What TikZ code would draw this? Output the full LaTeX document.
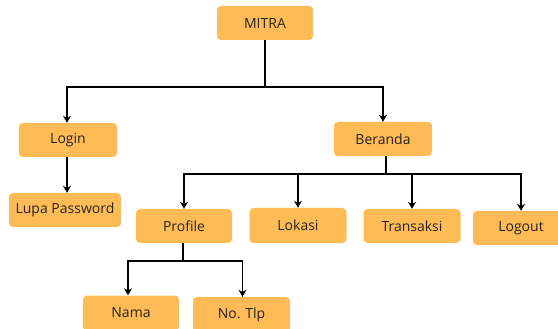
\documentclass[tikz,border=0pt]{standalone}
\usepackage{fontspec}
\setmainfont{Open Sans}
\usetikzlibrary{arrows.meta}
\definecolor{boxfill}{RGB}{255,187,85}
\definecolor{boxtext}{RGB}{40,36,30}
\begin{document}
\begin{tikzpicture}[x=1pt,y=-1pt,
  menubox/.style={fill=boxfill,rounded corners=4pt,text=boxtext,
    font=\fontsize{14}{16}\selectfont,inner sep=0pt,anchor=center},
  trunk/.style={draw=black,line width=1.8pt},
  link/.style={trunk,-{Stealth[length=7pt,width=8pt]}}]
\useasboundingbox (0,0) rectangle (558,329);
\clip (0,0) rectangle (558,329);
% boxes
\node[menubox,minimum width=96pt,minimum height=34pt] (mitra) at (265,23) {MITRA};
\node[menubox,minimum width=98pt,minimum height=34pt] (login) at (68,140) {Login};
\node[menubox,minimum width=98pt,minimum height=34pt] (beranda) at (383,139) {Beranda};
\node[menubox,minimum width=112pt,minimum height=34pt] (lupa) at (65,210) {Lupa Password};
\node[menubox,minimum width=96pt,minimum height=34pt] (profile) at (184,226) {Profile};
\node[menubox,minimum width=97pt,minimum height=35pt] (lokasi) at (298,225.5) {Lokasi};
\node[menubox,minimum width=97pt,minimum height=34pt] (transaksi) at (412,226) {Transaksi};
\node[menubox,minimum width=96pt,minimum height=34pt] (logout) at (521,228) {Logout};
\node[menubox,minimum width=96pt,minimum height=35pt] (nama) at (131,313) {Nama};
\node[menubox,minimum width=97pt,minimum height=35pt] (tlp) at (241.5,314.5) {No. Tlp};
% junction points
\coordinate (j1) at (265,87);
\coordinate (j2) at (386,174);
\coordinate (j3) at (183,261);
\coordinate (jl) at (67,0);
% connectors
\draw[trunk] (mitra.south) -- (j1);
\draw[link] (j1) -| (login.north -| jl);
\draw[link] (j1) -| (beranda.north);
\draw[link] (login.south -| jl) -- (lupa.north -| jl);
\draw[trunk] (beranda.south -| j2) -- (j2);
\draw[link] (j2) -| (profile.north);
\draw[link] (j2) -| (lokasi.north);
\draw[link] (j2) -| (transaksi.north);
\draw[link] (j2) -| (logout.north);
\draw[trunk] (profile.south -| j3) -- (j3);
\draw[link] (j3) -| ([xshift=-3pt]nama.north);
\draw[link] (j3) -| ([xshift=1pt]tlp.north);
\end{tikzpicture}
\end{document}
